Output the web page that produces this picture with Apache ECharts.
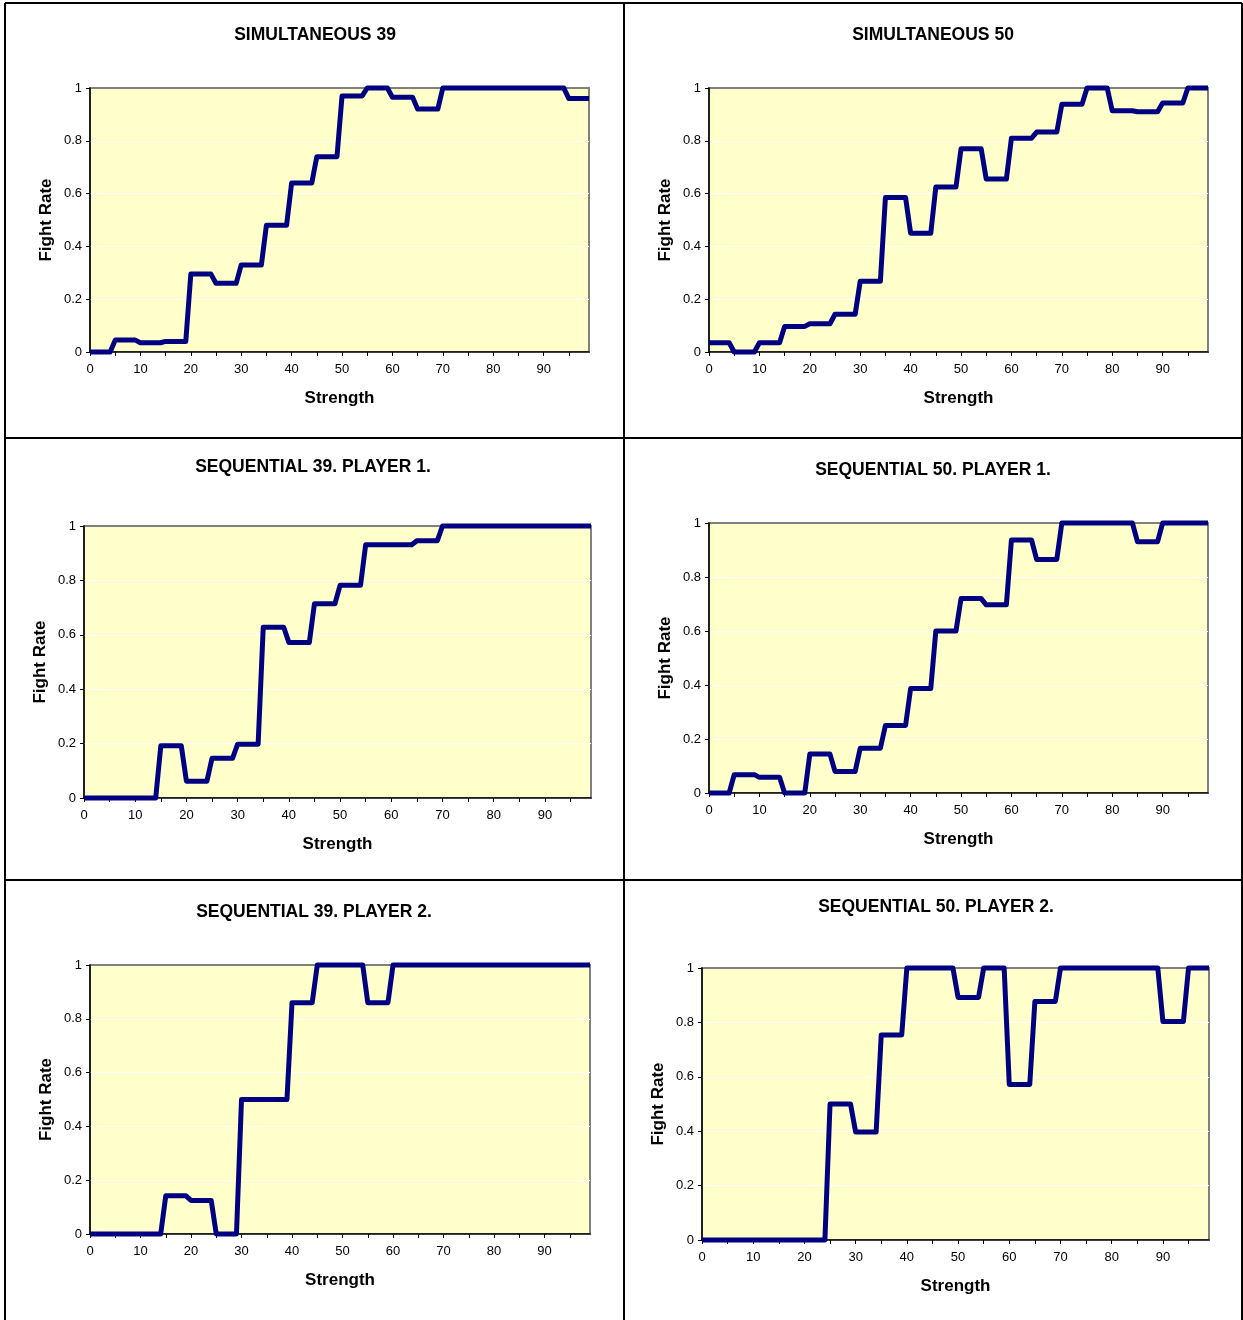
<!DOCTYPE html>
<html>
<head>
<meta charset="utf-8">
<title>Fight Rate by Strength</title>
<script src="https://cdn.jsdelivr.net/npm/echarts@6/dist/echarts.min.js"></script>
<style>
  html, body { margin: 0; padding: 0; background: #ffffff; }
  #chart { width: 1243px; height: 1320px; }
</style>
</head>
<body>
<div id="chart"></div>
<script>
// Strength levels on the horizontal axis (0..99)
const strength = [
  0,1,2,3,4,5,6,7,8,9,
  10,11,12,13,14,15,16,17,18,19,
  20,21,22,23,24,25,26,27,28,29,
  30,31,32,33,34,35,36,37,38,39,
  40,41,42,43,44,45,46,47,48,49,
  50,51,52,53,54,55,56,57,58,59,
  60,61,62,63,64,65,66,67,68,69,
  70,71,72,73,74,75,76,77,78,79,
  80,81,82,83,84,85,86,87,88,89,
  90,91,92,93,94,95,96,97,98,99
];

// Fight rate per strength level, one array per treatment
const simultaneous39 = [
  0,0,0,0,0, 0.045,0.045,0.045,0.045,0.045,
  0.035,0.035,0.035,0.035,0.035, 0.04,0.04,0.04,0.04,0.04,
  0.295,0.295,0.295,0.295,0.295, 0.26,0.26,0.26,0.26,0.26,
  0.33,0.33,0.33,0.33,0.33, 0.48,0.48,0.48,0.48,0.48,
  0.64,0.64,0.64,0.64,0.64, 0.74,0.74,0.74,0.74,0.74,
  0.97,0.97,0.97,0.97,0.97, 1,1,1,1,1,
  0.965,0.965,0.965,0.965,0.965, 0.92,0.92,0.92,0.92,0.92,
  1,1,1,1,1, 1,1,1,1,1,
  1,1,1,1,1, 1,1,1,1,1,
  1,1,1,1,1, 0.96,0.96,0.96,0.96,0.96
];

const simultaneous50 = [
  0.035,0.035,0.035,0.035,0.035, 0,0,0,0,0,
  0.035,0.035,0.035,0.035,0.035, 0.097,0.097,0.097,0.097,0.097,
  0.107,0.107,0.107,0.107,0.107, 0.143,0.143,0.143,0.143,0.143,
  0.268,0.268,0.268,0.268,0.268, 0.585,0.585,0.585,0.585,0.585,
  0.45,0.45,0.45,0.45,0.45, 0.625,0.625,0.625,0.625,0.625,
  0.77,0.77,0.77,0.77,0.77, 0.655,0.655,0.655,0.655,0.655,
  0.81,0.81,0.81,0.81,0.81, 0.833,0.833,0.833,0.833,0.833,
  0.938,0.938,0.938,0.938,0.938, 1,1,1,1,1,
  0.914,0.914,0.914,0.914,0.914, 0.91,0.91,0.91,0.91,0.91,
  0.943,0.943,0.943,0.943,0.943, 1,1,1,1,1
];

const sequential39Player1 = [
  0,0,0,0,0, 0,0,0,0,0,
  0,0,0,0,0, 0.192,0.192,0.192,0.192,0.192,
  0.062,0.062,0.062,0.062,0.062, 0.146,0.146,0.146,0.146,0.146,
  0.198,0.198,0.198,0.198,0.198, 0.628,0.628,0.628,0.628,0.628,
  0.572,0.572,0.572,0.572,0.572, 0.714,0.714,0.714,0.714,0.714,
  0.782,0.782,0.782,0.782,0.782, 0.931,0.931,0.931,0.931,0.931,
  0.931,0.931,0.931,0.931,0.931, 0.946,0.946,0.946,0.946,0.946,
  1,1,1,1,1, 1,1,1,1,1,
  1,1,1,1,1, 1,1,1,1,1,
  1,1,1,1,1, 1,1,1,1,1
];

const sequential50Player1 = [
  0,0,0,0,0, 0.068,0.068,0.068,0.068,0.068,
  0.058,0.058,0.058,0.058,0.058, 0,0,0,0,0,
  0.144,0.144,0.144,0.144,0.144, 0.08,0.08,0.08,0.08,0.08,
  0.166,0.166,0.166,0.166,0.166, 0.25,0.25,0.25,0.25,0.25,
  0.387,0.387,0.387,0.387,0.387, 0.6,0.6,0.6,0.6,0.6,
  0.72,0.72,0.72,0.72,0.72, 0.697,0.697,0.697,0.697,0.697,
  0.937,0.937,0.937,0.937,0.937, 0.865,0.865,0.865,0.865,0.865,
  1,1,1,1,1, 1,1,1,1,1,
  1,1,1,1,1, 0.931,0.931,0.931,0.931,0.931,
  1,1,1,1,1, 1,1,1,1,1
];

const sequential39Player2 = [
  0,0,0,0,0, 0,0,0,0,0,
  0,0,0,0,0, 0.142,0.142,0.142,0.142,0.142,
  0.125,0.125,0.125,0.125,0.125, 0,0,0,0,0,
  0.5,0.5,0.5,0.5,0.5, 0.5,0.5,0.5,0.5,0.5,
  0.86,0.86,0.86,0.86,0.86, 1,1,1,1,1,
  1,1,1,1,1, 0.86,0.86,0.86,0.86,0.86,
  1,1,1,1,1, 1,1,1,1,1,
  1,1,1,1,1, 1,1,1,1,1,
  1,1,1,1,1, 1,1,1,1,1,
  1,1,1,1,1, 1,1,1,1,1
];

const sequential50Player2 = [
  0,0,0,0,0, 0,0,0,0,0,
  0,0,0,0,0, 0,0,0,0,0,
  0,0,0,0,0, 0.5,0.5,0.5,0.5,0.5,
  0.397,0.397,0.397,0.397,0.397, 0.754,0.754,0.754,0.754,0.754,
  1,1,1,1,1, 1,1,1,1,1,
  0.892,0.892,0.892,0.892,0.892, 1,1,1,1,1,
  0.572,0.572,0.572,0.572,0.572, 0.877,0.877,0.877,0.877,0.877,
  1,1,1,1,1, 1,1,1,1,1,
  1,1,1,1,1, 1,1,1,1,1,
  0.803,0.803,0.803,0.803,0.803, 1,1,1,1,1
];

const panelTitles = [
  'SIMULTANEOUS 39', 'SIMULTANEOUS 50',
  'SEQUENTIAL 39. PLAYER 1.', 'SEQUENTIAL 50. PLAYER 1.',
  'SEQUENTIAL 39. PLAYER 2.', 'SEQUENTIAL 50. PLAYER 2.'
];
const panelSeries = [
  simultaneous39, simultaneous50,
  sequential39Player1, sequential50Player1,
  sequential39Player2, sequential50Player2
];
const xAxisName = 'Strength';
const yAxisName = 'Fight Rate';

// Page layout: plot rectangles and title anchors of the six panels
const plots = [
  { left: 90,  top: 88,  width: 499, height: 264 },
  { left: 709, top: 88,  width: 499, height: 264 },
  { left: 84,  top: 526, width: 507, height: 272 },
  { left: 709, top: 523, width: 499, height: 270 },
  { left: 90,  top: 965, width: 500, height: 269 },
  { left: 702, top: 968, width: 507, height: 272 }
];
const titlePos = [
  [315, 35], [933, 35],
  [313, 467], [933, 470],
  [314, 912], [936, 907]
];

const FONT = '"Liberation Sans", Arial, Helvetica, sans-serif';
const LINE_COLOR = '#000080';
const PLOT_BG = '#FFFFCC';

const grids = [], xAxes = [], yAxes = [], series = [], graphics = [];

plots.forEach((p, i) => {
  grids.push({
    left: p.left, top: p.top, width: p.width, height: p.height,
    show: true, backgroundColor: PLOT_BG,
    borderColor: '#808080', borderWidth: 2
  });
  xAxes.push({
    gridIndex: i, type: 'category', data: strength, boundaryGap: false,
    name: xAxisName, nameLocation: 'middle', nameGap: 38,
    nameTextStyle: { fontFamily: FONT, fontSize: 17, fontWeight: 'bold', color: '#000' },
    axisLine: { lineStyle: { color: '#000', width: 1.5 } },
    axisTick: { show: true, interval: 4, length: 4, lineStyle: { color: '#000' } },
    axisLabel: { interval: 9, fontFamily: FONT, fontSize: 13, color: '#000', margin: 11 },
    splitLine: { show: false }
  });
  yAxes.push({
    gridIndex: i, type: 'value', min: 0, max: 1, interval: 0.2,
    name: yAxisName, nameLocation: 'middle', nameGap: 35, nameRotate: 90,
    nameTextStyle: { fontFamily: FONT, fontSize: 17, fontWeight: 'bold', color: '#000' },
    axisLine: { show: true, lineStyle: { color: '#000', width: 1.5 } },
    axisTick: { show: true, length: 4, lineStyle: { color: '#000' } },
    axisLabel: { fontFamily: FONT, fontSize: 13, color: '#000', margin: 8 },
    splitLine: {
      show: true,
      lineStyle: { color: ['#FFFFFF', '#FFFFFF', '#FFFFFF', '#FFFFFF', '#FFFFFF', '#808080'], width: 1 }
    }
  });
  series.push({
    type: 'line', xAxisIndex: i, yAxisIndex: i,
    data: panelSeries[i], showSymbol: false, symbol: 'none',
    clip: false, animation: false, z: 5,
    lineStyle: { color: LINE_COLOR, width: 5, join: 'round', cap: 'butt' }
  });
  graphics.push({
    type: 'text', x: titlePos[i][0], y: titlePos[i][1],
    style: {
      text: panelTitles[i], fill: '#000', align: 'center', verticalAlign: 'middle',
      font: 'bold 17.5px ' + FONT
    }
  });
});

// Panel frame and separators
const frame = { stroke: '#000', lineWidth: 2 };
[
  [5, 3, 1242, 3],
  [5, 3, 5, 1320],
  [1242, 3, 1242, 1320],
  [624, 3, 624, 1320],
  [5, 438, 1242, 438],
  [5, 880, 1242, 880]
].forEach(s => graphics.push({
  type: 'line', shape: { x1: s[0], y1: s[1], x2: s[2], y2: s[3] }, style: frame, silent: true
}));

const chart = echarts.init(document.getElementById('chart'), null, { renderer: 'canvas' });
chart.setOption({
  animation: false,
  backgroundColor: '#ffffff',
  grid: grids,
  xAxis: xAxes,
  yAxis: yAxes,
  series: series,
  graphic: graphics
});
</script>
</body>
</html>
